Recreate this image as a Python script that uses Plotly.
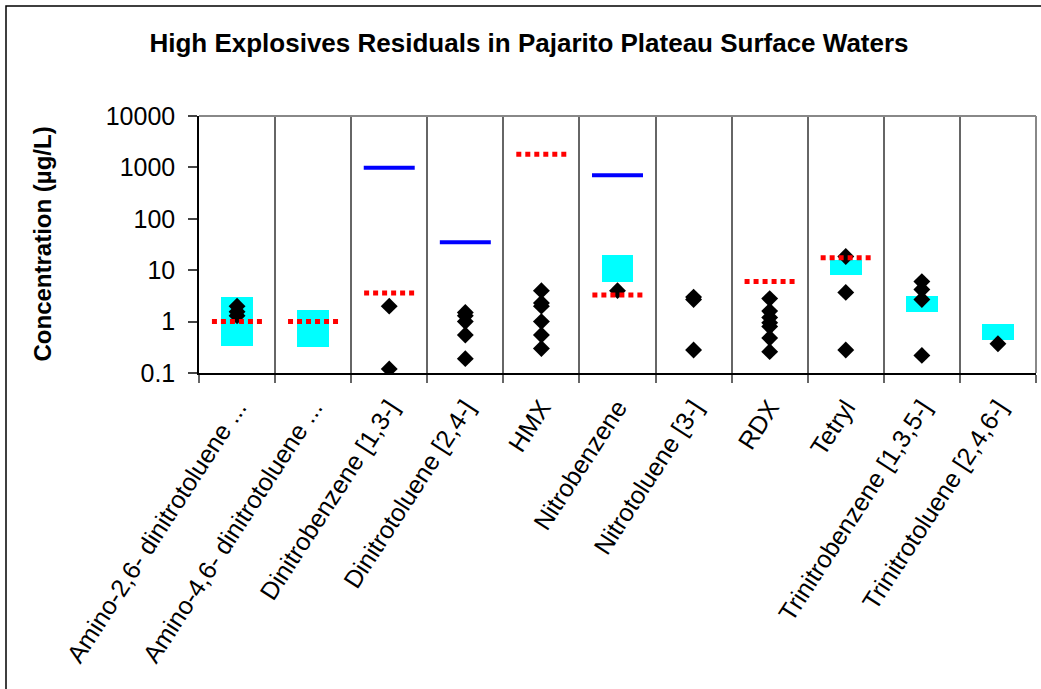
import plotly.graph_objects as go

categories = ["Amino-2,6- dinitrotoluene ...", "Amino-4,6- dinitrotoluene ...",
              "Dinitrobenzene [1,3-]", "Dinitrotoluene [2,4-]", "HMX", "Nitrobenzene",
              "Nitrotoluene [3-]", "RDX", "Tetryl", "Trinitrobenzene [1,3,5-]",
              "Trinitrotoluene [2,4,6-]"]

# detected concentrations (black diamonds), per category
detections = [
    [2.0, 1.55, 1.3],
    [],
    [2.0, 0.12],
    [1.5, 1.3, 1.0, 0.55, 0.19],
    [4.0, 2.3, 2.0, 1.0, 0.55, 0.3],
    [4.0],
    [3.0, 2.7, 0.28],
    [2.8, 1.6, 1.2, 0.95, 0.8, 0.48, 0.26],
    [18.5, 3.7, 0.28],
    [6.0, 4.2, 2.7, 0.22],
    [0.37],
]

# cyan range boxes (low, high); None where absent
box_low = [0.33, 0.32, None, None, None, 5.9, None, None, 8.0, 1.55, 0.44]
box_high = [3.0, 1.65, None, None, None, 20.0, None, None, 16.0, 3.1, 0.88]

# red dotted levels
red_level = [1.0, 1.0, 3.6, None, 1800, 3.3, None, 6.0, 17.5, None, None]
# blue solid levels
blue_level = [None, None, 980, 35, None, 700, None, None, None, None, None]

W, H = 1041, 689
ML, MR, MT, MB = 199, 5, 116, 316
plot_w = W - ML - MR
plot_h = H - MT - MB

fig = go.Figure()

# cyan boxes
bx, bb, by = [], [], []
for i, (lo, hi) in enumerate(zip(box_low, box_high)):
    if lo is not None:
        bx.append(i); bb.append(lo); by.append(hi - lo)
fig.add_trace(go.Bar(x=bx, y=by, base=bb, width=0.42, marker=dict(color="#00FFFF", line=dict(width=0)),
                     showlegend=False, hoverinfo="skip"))

# diamonds
dx, dy = [], []
for i, vals in enumerate(detections):
    for v in vals:
        dx.append(i); dy.append(v)
fig.add_trace(go.Scatter(x=dx, y=dy, mode="markers",
                         marker=dict(symbol="diamond", size=13, color="black", line=dict(width=0)),
                         showlegend=False))

# red dotted
half_r = 0.33
rx, ry = [], []
for i, v in enumerate(red_level):
    if v is not None:
        rx += [i - half_r, i + half_r, None]; ry += [v, v, None]
fig.add_trace(go.Scatter(x=rx, y=ry, mode="lines", line=dict(color="#FF0000", width=5, dash="5px,4px"),
                         showlegend=False, connectgaps=False))

# blue solid
half_b = 0.335
ux, uy = [], []
for i, v in enumerate(blue_level):
    if v is not None:
        ux += [i - half_b, i + half_b, None]; uy += [v, v, None]
fig.add_trace(go.Scatter(x=ux, y=uy, mode="lines", line=dict(color="#0000FF", width=4),
                         showlegend=False, connectgaps=False))

FONT = "Liberation Sans, Arial, sans-serif"
n = len(categories)
fig.update_layout(
    width=W, height=H,
    margin=dict(l=ML, r=MR, t=MT, b=MB, pad=0),
    paper_bgcolor="white", plot_bgcolor="white",
    font=dict(family=FONT, color="black"),
    title=dict(text="High Explosives Residuals in Pajarito Plateau Surface Waters",
               font=dict(size=26, family=FONT, color="black", weight="bold"),
               x=529 / W, xanchor="center", xref="container",
               y=1 - 43 / H, yanchor="middle", yref="container"),
    bargap=0,
    xaxis=dict(range=[-0.5, n - 0.5], tickmode="array", tickvals=list(range(n)), ticktext=categories,
               tickangle=-57, tickfont=dict(size=25, family=FONT, color="black"),
               ticks="", showgrid=False, zeroline=False, ticklabelstandoff=8,
               showline=True, linecolor="black", linewidth=2,
               minor=dict(tickmode="array", tickvals=[k - 0.5 for k in range(n + 1)],
                          ticks="outside", ticklen=8, tickcolor="#666666", tickwidth=1.5,
                          showgrid=True, gridcolor="#666666", gridwidth=1.5)),
    yaxis=dict(type="log", range=[-1, 4], tickmode="array",
               tickvals=[0.1, 1, 10, 100, 1000, 10000],
               ticktext=["0.1", "1", "10", "100", "1000", "10000"],
               tickfont=dict(size=25, family=FONT, color="black"),
               ticks="outside", ticklen=9, tickcolor="#444444", tickwidth=1.5,
               showgrid=False, zeroline=False, showline=True, linecolor="black", linewidth=1.5,
               ticklabelstandoff=8),
    annotations=[dict(text="Concentration (µg/L)", textangle=-90, x=(42 - ML) / plot_w, xref="paper",
                      y=0.5, yref="paper", xanchor="center", yanchor="middle", showarrow=False,
                      font=dict(size=24, family=FONT, color="black", weight="bold"))],
    shapes=[
        dict(type="line", xref="paper", yref="paper", x0=0, x1=1, y0=1, y1=1,
             line=dict(color="#888888", width=2), layer="above"),
        dict(type="line", xref="paper", yref="paper", x0=1, x1=1, y0=0, y1=1,
             line=dict(color="#888888", width=2), layer="above"),
        dict(type="rect", xref="paper", yref="paper",
             x0=(6 - ML) / plot_w, x1=(W + 10 - ML) / plot_w,
             y0=(H - MB - 6) / plot_h, y1=(H - MB - H - 10) / plot_h,
             line=dict(color="black", width=1.5), fillcolor="rgba(0,0,0,0)"),
    ],
)

fig.write_html("out.html")
